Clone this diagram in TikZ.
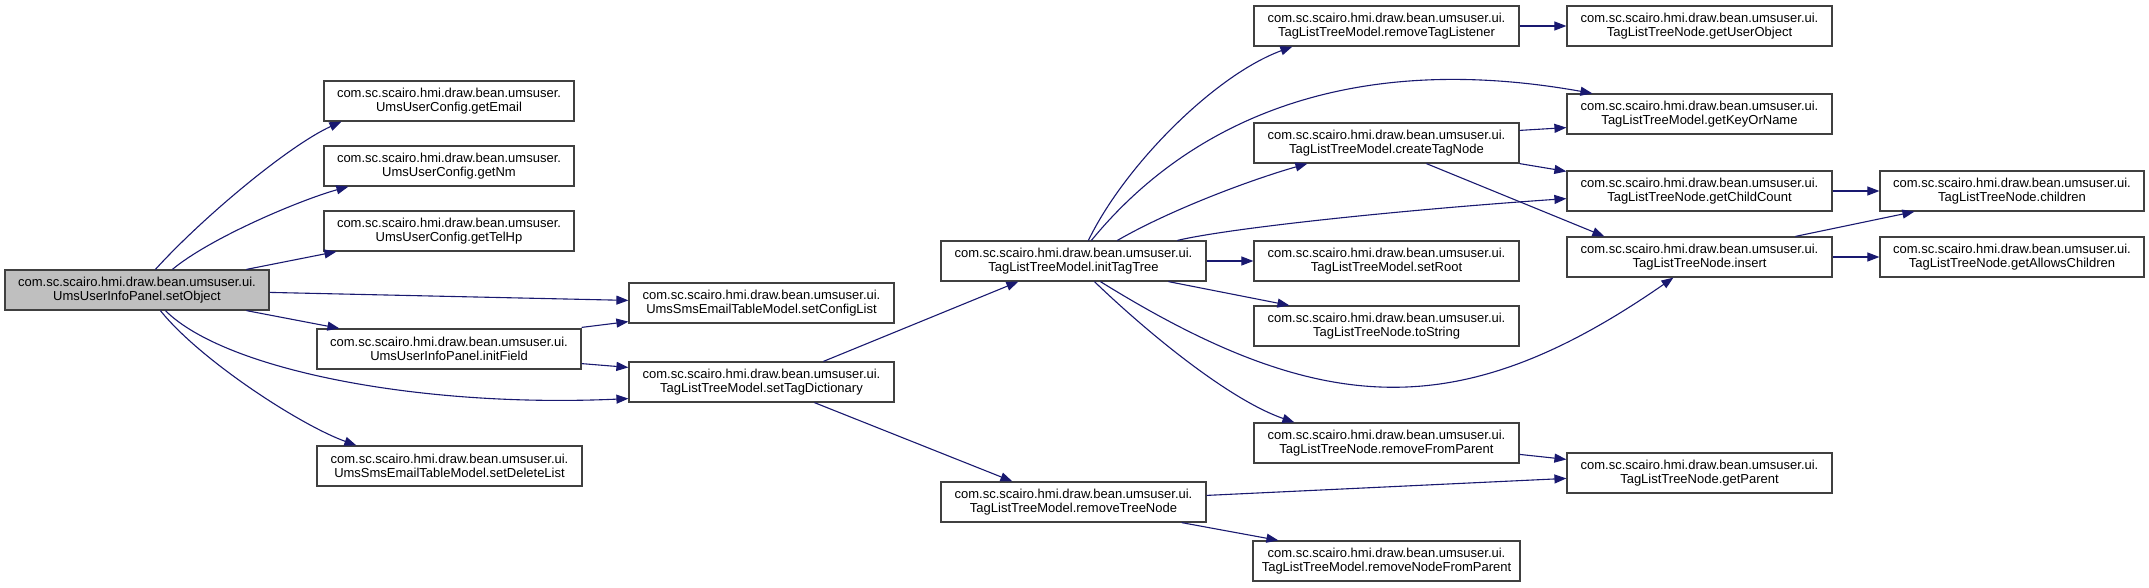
\documentclass[tikz,border=0pt]{standalone}
\usepackage{fontspec}
\setmainfont{Liberation Sans}
\usetikzlibrary{arrows.meta,calc}
\definecolor{edgeblue}{RGB}{25,25,112}
\definecolor{boxline}{RGB}{64,64,64}
\definecolor{hlgray}{RGB}{191,191,191}
\begin{document}
\begin{tikzpicture}[x=1pt,y=-1pt,
  fn/.style={draw=boxline,line width=1.2pt,fill=white,rectangle,minimum height=40pt,inner sep=0pt,align=center,
    font=\fontsize{13pt}{14pt}\selectfont},
  hl/.style={fn,fill=hlgray},
  conn/.style={draw=edgeblue,line width=1.1pt,-{Triangle[length=12pt,width=9pt]}}]
\fill[white] (0,0) rectangle (2149,587);
\useasboundingbox (0,0) rectangle (2149,587);

% nodes
\node[hl,minimum width=264pt] (setObject) at (137,290) {com.sc.scairo.hmi.draw.bean.umsuser.ui.\\UmsUserInfoPanel.setObject};
\node[fn,minimum width=250pt] (getEmail) at (449,101) {com.sc.scairo.hmi.draw.bean.umsuser.\\UmsUserConfig.getEmail};
\node[fn,minimum width=250pt] (getNm) at (449,166) {com.sc.scairo.hmi.draw.bean.umsuser.\\UmsUserConfig.getNm};
\node[fn,minimum width=250pt] (getTelHp) at (449,231) {com.sc.scairo.hmi.draw.bean.umsuser.\\UmsUserConfig.getTelHp};
\node[fn,minimum width=264pt] (initField) at (449,349) {com.sc.scairo.hmi.draw.bean.umsuser.ui.\\UmsUserInfoPanel.initField};
\node[fn,minimum width=265pt] (setDeleteList) at (449.5,466) {com.sc.scairo.hmi.draw.bean.umsuser.ui.\\UmsSmsEmailTableModel.setDeleteList};
\node[fn,minimum width=265pt] (setConfigList) at (761.5,303) {com.sc.scairo.hmi.draw.bean.umsuser.ui.\\UmsSmsEmailTableModel.setConfigList};
\node[fn,minimum width=265pt] (setTagDictionary) at (761.5,382) {com.sc.scairo.hmi.draw.bean.umsuser.ui.\\TagListTreeModel.setTagDictionary};
\node[fn,minimum width=265pt] (initTagTree) at (1073.5,261) {com.sc.scairo.hmi.draw.bean.umsuser.ui.\\TagListTreeModel.initTagTree};
\node[fn,minimum width=265pt] (removeTreeNode) at (1073.5,502) {com.sc.scairo.hmi.draw.bean.umsuser.ui.\\TagListTreeModel.removeTreeNode};
\node[fn,minimum width=265pt] (removeTagListener) at (1386.5,26) {com.sc.scairo.hmi.draw.bean.umsuser.ui.\\TagListTreeModel.removeTagListener};
\node[fn,minimum width=265pt] (createTagNode) at (1386.5,143) {com.sc.scairo.hmi.draw.bean.umsuser.ui.\\TagListTreeModel.createTagNode};
\node[fn,minimum width=265pt] (setRoot) at (1386.5,261) {com.sc.scairo.hmi.draw.bean.umsuser.ui.\\TagListTreeModel.setRoot};
\node[fn,minimum width=265pt] (toString) at (1386.5,326) {com.sc.scairo.hmi.draw.bean.umsuser.ui.\\TagListTreeNode.toString};
\node[fn,minimum width=265pt] (removeFromParent) at (1386.5,443) {com.sc.scairo.hmi.draw.bean.umsuser.ui.\\TagListTreeNode.removeFromParent};
\node[fn,minimum width=267pt] (removeNodeFromParent) at (1386.5,561) {com.sc.scairo.hmi.draw.bean.umsuser.ui.\\TagListTreeModel.removeNodeFromParent};
\node[fn,minimum width=265pt] (getUserObject) at (1699.5,26) {com.sc.scairo.hmi.draw.bean.umsuser.ui.\\TagListTreeNode.getUserObject};
\node[fn,minimum width=265pt] (getKeyOrName) at (1699.5,114) {com.sc.scairo.hmi.draw.bean.umsuser.ui.\\TagListTreeModel.getKeyOrName};
\node[fn,minimum width=265pt] (getChildCount) at (1699.5,191) {com.sc.scairo.hmi.draw.bean.umsuser.ui.\\TagListTreeNode.getChildCount};
\node[fn,minimum width=265pt] (insert) at (1699.5,257) {com.sc.scairo.hmi.draw.bean.umsuser.ui.\\TagListTreeNode.insert};
\node[fn,minimum width=265pt] (getParent) at (1699.5,473) {com.sc.scairo.hmi.draw.bean.umsuser.ui.\\TagListTreeNode.getParent};
\node[fn,minimum width=264pt] (children) at (2012,191) {com.sc.scairo.hmi.draw.bean.umsuser.ui.\\TagListTreeNode.children};
\node[fn,minimum width=264pt] (getAllowsChildren) at (2012,257) {com.sc.scairo.hmi.draw.bean.umsuser.ui.\\TagListTreeNode.getAllowsChildren};

% connectors
\draw[conn] ([shift={(151,0)}]setObject.north west) .. controls (205,215) and (290,145) .. ([shift={(18,0)}]getEmail.south west);
\draw[conn] ([shift={(168,0)}]setObject.north west) .. controls (210,238) and (300,200) .. ([shift={(25,0)}]getNm.south west);
\draw[conn] ([shift={(242,0)}]setObject.north west) -- ([shift={(13,0)}]getTelHp.south west);
\draw[conn] ([shift={(0,23)}]setObject.north east) -- ([shift={(0,18)}]setConfigList.north west);
\draw[conn] ([shift={(242,0)}]setObject.south west) -- ([shift={(23,0)}]initField.north west);
\draw[conn] ([shift={(0,-1)}]initField.north east) -- ([shift={(0,-2)}]setConfigList.south west);
\draw[conn] ([shift={(0,-6)}]initField.south east) -- ([shift={(0,6)}]setTagDictionary.north west);
\draw[conn] ([shift={(161,0)}]setObject.south west) .. controls (225,370) and (420,408) .. ([shift={(0,-4)}]setTagDictionary.south west);
\draw[conn] ([shift={(156,0)}]setObject.south west) .. controls (200,360) and (300,425) .. ([shift={(40,0)}]setDeleteList.north west);
\draw[conn] ([shift={(195,0)}]setTagDictionary.north west) -- ([shift={(78,0)}]initTagTree.south west);
\draw[conn] ([shift={(186,0)}]setTagDictionary.south west) -- ([shift={(72,0)}]removeTreeNode.north west);
\draw[conn] ([shift={(148,0)}]initTagTree.north west) .. controls (1125,165) and (1215,75) .. ([shift={(39,0)}]removeTagListener.south west);
\draw[conn] ([shift={(151,0)}]initTagTree.north west) .. controls (1190,120) and (1350,50) .. ([shift={(26,0)}]getKeyOrName.north west);
\draw[conn] ([shift={(177,0)}]initTagTree.north west) .. controls (1170,210) and (1250,180) .. ([shift={(54,0)}]createTagNode.south west);
\draw[conn] ([shift={(237,0)}]initTagTree.north west) .. controls (1230,228) and (1400,210) .. ([shift={(0,-13)}]getChildCount.south west);
\draw[conn] (initTagTree.east) -- (setRoot.west);
\draw[conn] ([shift={(228,0)}]initTagTree.south west) -- ([shift={(36,0)}]toString.north west);
\draw[conn] ([shift={(160,0)}]initTagTree.south west) .. controls (1322,419) and (1461,425) .. ([shift={(107,0)}]insert.south west);
\draw[conn] ([shift={(154,0)}]initTagTree.south west) .. controls (1150,335) and (1230,400) .. ([shift={(41,0)}]removeFromParent.north west);
\draw[conn] ([shift={(0,8)}]createTagNode.north east) -- ([shift={(0,-7)}]getKeyOrName.south west);
\draw[conn] (createTagNode.south east) -- ([shift={(0,1)}]getChildCount.north west);
\draw[conn] ([shift={(173,0)}]createTagNode.south west) -- ([shift={(38,0)}]insert.north west);
\draw[conn] (removeTagListener.east) -- (getUserObject.west);
\draw[conn] (getChildCount.east) -- (children.west);
\draw[conn] ([shift={(229,0)}]insert.north west) -- ([shift={(35,0)}]children.south west);
\draw[conn] (insert.east) -- (getAllowsChildren.west);
\draw[conn] ([shift={(0,32)}]removeFromParent.north east) -- ([shift={(0,7)}]getParent.north west);
\draw[conn] ([shift={(0,14)}]removeTreeNode.north east) -- ([shift={(0,26)}]getParent.north west);
\draw[conn] ([shift={(-25,0)}]removeTreeNode.south east) -- ([shift={(26,0)}]removeNodeFromParent.north west);
\end{tikzpicture}
\end{document}
